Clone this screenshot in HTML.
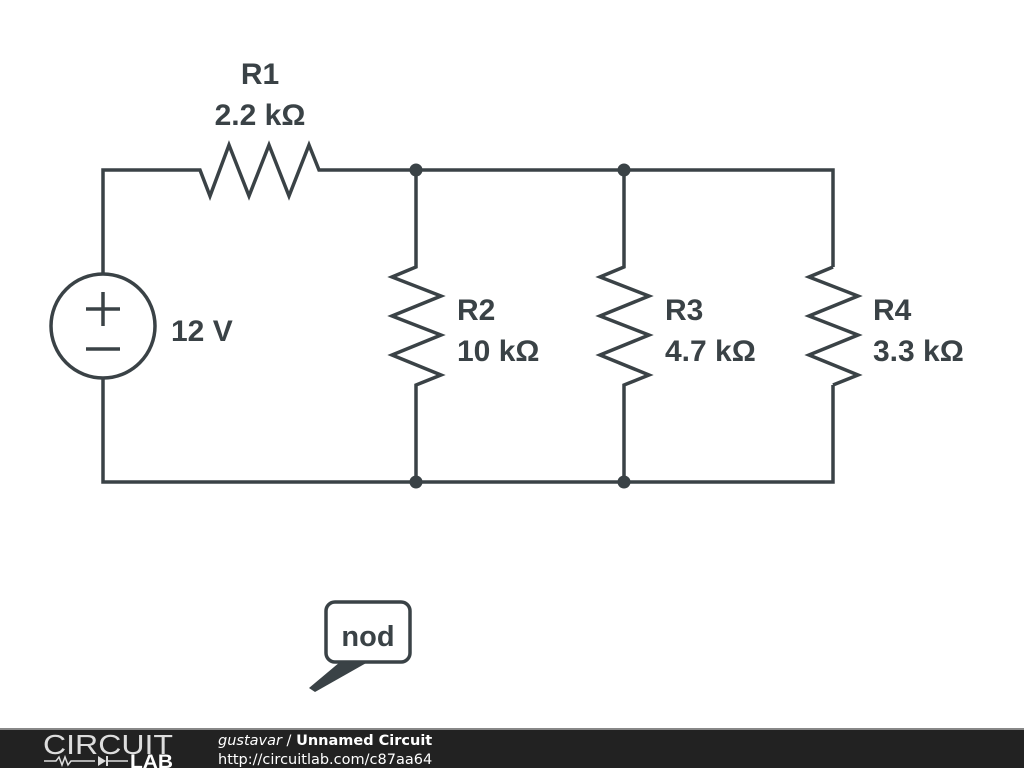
<!DOCTYPE html>
<html><head><style>
body{margin:0;width:1024px;height:768px;background:#fff;overflow:hidden;font-family:"Liberation Sans","DejaVu Sans",sans-serif}
</style></head><body>
<svg width="1024" height="768" style="position:absolute;left:0;top:0">
<g fill="none" stroke="#3a4246" stroke-width="3.5" stroke-linejoin="miter">
<polyline points="103,274 103,170 200,170 210,196 229,145 249,196 269,145 289,196 309,145 319,170 833,170 833,267"/>
<polyline points="103,378 103,482 833,482 833,385"/>
<circle cx="103" cy="326" r="52"/>
<line x1="86" y1="309" x2="120" y2="309"/><line x1="103" y1="292" x2="103" y2="326"/>
<line x1="86" y1="349" x2="120" y2="349"/>
<polyline points="416,170 416,267 392,277 441,296 392,316 441,335 392,355 441,375 416,385 416,482"/>
<polyline points="624,170 624,267 600,277 649,296 600,316 649,335 600,355 649,375 624,385 624,482"/>
<polyline points="833,267 809,277 858,296 809,316 858,335 809,355 858,375 833,385"/>
<rect x="326" y="602" width="84" height="60" rx="9"/>
</g>
<g fill="#3a4246">
<circle cx="416" cy="170" r="6.5"/><circle cx="624" cy="170" r="6.5"/>
<circle cx="416" cy="482" r="6.5"/><circle cx="624" cy="482" r="6.5"/>
<polygon points="340,662 368,662 315,692 309,688"/>
</g>
<rect x="0" y="729" width="1024" height="39" fill="#222"/>
<rect x="0" y="728" width="1024" height="2" fill="#888"/>
<g fill="#3a4246" font-weight="bold" font-size="30">
<text x="260" y="84" text-anchor="middle">R1</text>
<text x="260" y="125" text-anchor="middle">2.2 kΩ</text>
<text x="171" y="341">12 V</text>
<text x="457" y="320">R2</text><text x="457" y="361">10 kΩ</text>
<text x="665" y="320">R3</text><text x="665" y="361">4.7 kΩ</text>
<text x="873" y="320">R4</text><text x="873" y="361">3.3 kΩ</text>
<text x="368" y="646" text-anchor="middle" font-size="29">nod</text>
</g>
<text x="43" y="754" fill="#ddd" font-size="28" textLength="130" lengthAdjust="spacingAndGlyphs">CIRCUIT</text>
<text x="130" y="768" fill="#fff" font-size="19" font-weight="bold" textLength="43" lengthAdjust="spacingAndGlyphs">LAB</text>
<polyline points="44,761 56,761 59,757 62,765 65,757 68,765 71,761 95,761" fill="none" stroke="#ddd" stroke-width="1.5"/>
<polygon points="98,756 98,766 106,761" fill="#ddd"/><line x1="107" y1="756" x2="107" y2="766" stroke="#ddd" stroke-width="2"/>
<line x1="107" y1="761" x2="128" y2="761" stroke="#ddd" stroke-width="1.5"/>
<text x="218" y="745" fill="#fff" font-size="14.5" font-family="DejaVu Sans,sans-serif"><tspan font-style="italic">gustavar</tspan> / <tspan font-weight="bold">Unnamed Circuit</tspan></text>
<text x="218" y="764" fill="#fff" font-size="14.5" font-family="DejaVu Sans,sans-serif">http://circuitlab.com/c87aa64</text>
</svg>
</body></html>
